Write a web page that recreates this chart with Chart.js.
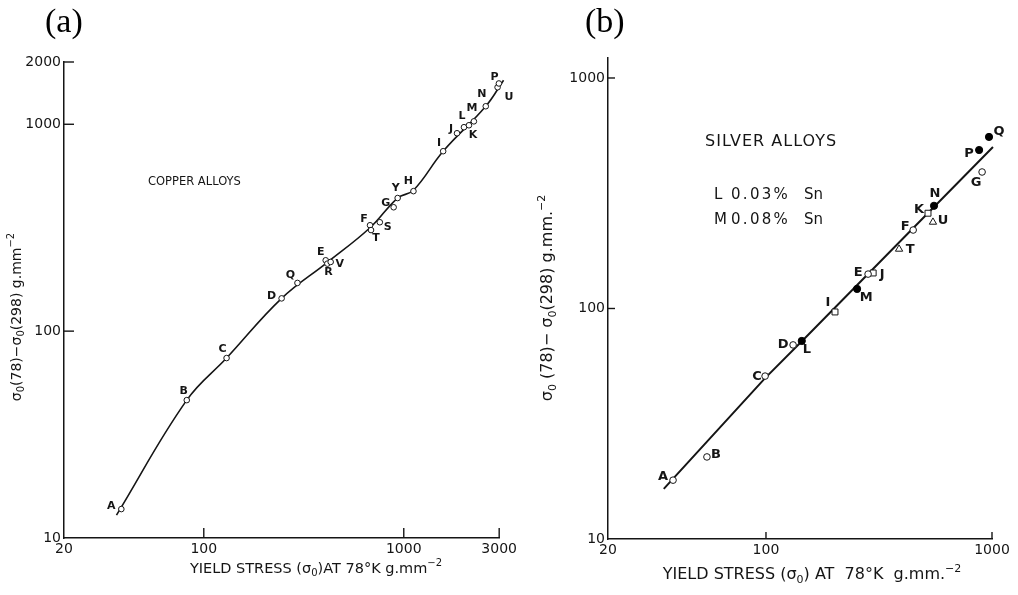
<!DOCTYPE html>
<html><head><meta charset="utf-8">
<script src="https://cdn.jsdelivr.net/npm/chart.js@4.4.1/dist/chart.umd.min.js"></script>
<style>
html,body{margin:0;padding:0;background:#fff;width:1018px;height:595px;overflow:hidden;}
#wrapA{position:absolute;left:0;top:0;width:520px;height:595px;}
#wrapB{position:absolute;left:520px;top:0;width:498px;height:595px;}
.ptitle{position:absolute;font-family:"Liberation Serif","Times New Roman",serif;font-size:34px;color:#000;line-height:1;}
</style></head><body>
<div id="wrapA"><canvas id="ca" width="520" height="595" style="width:520px;height:595px"></canvas></div>
<div id="wrapB"><canvas id="cb" width="498" height="595" style="width:498px;height:595px"></canvas></div>
<div class="ptitle" style="left:45px;top:4px">(a)</div>
<div class="ptitle" style="left:585px;top:4px">(b)</div>
<script>
// ---------- DATA: (a) copper alloys ----------
const cuLabels = ['A','B','C','D','Q','E','R','V','F','T','S','G','Y','H','I','J','L','K','M','N','P','U'];
const cuStress = [38.7, 82.2, 130, 245, 294, 407, 415, 431, 678, 686, 759, 890, 932, 1118, 1574, 1846, 2000, 2118, 2242, 2570, 2945, 2990];
const cuDiff   = [13.8, 46.4, 74.1, 144, 171, 220, 212, 216, 325, 308, 336, 397, 440, 475, 741, 905, 968, 989, 1033, 1222, 1510, 1575];
const cuFitStress = [36.6, 82.2, 130, 245, 415, 678, 932, 1118, 1574, 2570, 3155];
const cuFitDiff   = [12.9, 46.4, 74.1, 144, 215, 316, 440, 480, 741, 1222, 1633];
const cuXTicks = [20, 100, 1000, 3000];
const cuYTicks = [10, 100, 1000, 2000];

// ---------- DATA: (b) silver alloys ----------
const agOpenLabels = ['A','B','C','D','E','F','G'];
const agOpenStress = [38.8, 54.8, 99.1, 131.8, 283, 448, 904];
const agOpenDiff   = [18.0, 22.7, 50.9, 69.5, 141, 219, 391];
const agFilledLabels = ['L','M','N','P','Q'];
const agFilledStress = [144, 253, 554, 877, 970];
const agFilledDiff   = [72.3, 121.6, 279, 487, 555];
const agSquareLabels = ['I','J','K'];
const agSquareStress = [202, 298, 521];
const agSquareDiff   = [96.6, 142.6, 259];
const agTriLabels = ['T','U'];
const agTriStress = [388, 548];
const agTriDiff   = [181, 237];
const agFitStress = [35.3, 99.1, 148.9, 1010];
const agFitDiff   = [16.5, 49.9, 74.5, 502];
const agXTicks = [20, 100, 1000];
const agYTicks = [10, 100, 1000];

// ---------- TEXT ----------
const xTitleA = [['YIELD STRESS (σ','n'],['0','sub'],[')AT 78°K g.mm','n'],['−2','sup']];
const yTitleA = [['σ','n'],['0','sub'],['(78)−σ','n'],['0','sub'],['(298) g.mm','n'],['−2','sup']];
const xTitleB = [['YIELD STRESS (σ','n'],['0','sub'],[') AT  78°K  g.mm.','n'],['−2','sup']];
const yTitleB = [['σ','n'],['0','sub'],[' (78)− σ','n'],['0','sub'],['(298) g.mm.','n'],['−2','sup']];
const noteA = 'COPPER ALLOYS';
const noteB = 'SILVER ALLOYS';
const noteBL = ['L', '0.03%', 'Sn'];
const noteBM = ['M', '0.08%', 'Sn'];

// ---------- label placement (pixel offsets from each point) ----------
const cuLabelOff = {A:[-10,-3],B:[-3,-9],C:[-4,-9],D:[-10,-2],Q:[-7,-8],E:[-5,-8],R:[1,9],V:[9,2],F:[-6,-6],T:[5,8],S:[8,5],G:[-8,-4],Y:[-2,-10],H:[-5,-10],I:[-4,-8],J:[-6,-4],L:[-2,-11],K:[4,10],M:[-2,-13],N:[-4,-12],P:[-3,-10],U:[10,14]};
const agLabelOff = {A:[-10,-4],B:[9,-2],C:[-8,1],D:[-10,0],E:[-10,-1],F:[-8,-3],G:[-6,11],L:[5,9],M:[9,9],N:[1,-12],P:[-10,4],Q:[10,-5],I:[-7,-9],J:[9,2],K:[-9,-4],T:[11,1],U:[10,-1]};

const FONT = '"DejaVu Sans", "Liberation Sans", sans-serif';
const INK = '#151515';

function pts(xs, ys){ return xs.map((x,i)=>({x:x, y:ys[i]})); }

function drawRich(ctx, segs, x, y, size, align){
  const f = m => (m==='n' ? size : Math.round(size*0.68)) + 'px ' + FONT;
  let w = 0;
  for (const [t,m] of segs){ ctx.font = f(m); w += ctx.measureText(t).width; }
  let cx = align === 'center' ? x - w/2 : x;
  ctx.textAlign = 'left'; ctx.textBaseline = 'middle';
  for (const [t,m] of segs){
    ctx.font = f(m);
    const dy = m==='sub' ? size*0.32 : (m==='sup' ? -size*0.38 : 0);
    ctx.fillText(t, cx, y+dy);
    cx += ctx.measureText(t).width;
  }
}

function decor(opt){
  return {
    id: 'decor_' + opt.name,
    afterDraw(chart){
      const ctx = chart.ctx, xs = chart.scales.x, ys = chart.scales.y;
      const a = chart.chartArea;
      ctx.save();
      ctx.strokeStyle = INK; ctx.lineWidth = 1.4;
      // inward tick marks
      opt.xTicks.slice(1).forEach(v=>{
        const px = xs.getPixelForValue(v);
        ctx.beginPath(); ctx.moveTo(px, a.bottom); ctx.lineTo(px, a.bottom - opt.tickLen); ctx.stroke();
      });
      opt.yTicks.slice(1).forEach(v=>{
        const py = ys.getPixelForValue(v);
        ctx.beginPath(); ctx.moveTo(a.left, py); ctx.lineTo(a.left + opt.tickLen, py); ctx.stroke();
      });
      // point letters
      ctx.fillStyle = INK;
      chart.data.datasets.forEach((ds, di)=>{
        if (!ds.pointLetters) return;
        const meta = chart.getDatasetMeta(di);
        meta.data.forEach((el, i)=>{
          const L = ds.pointLetters[i];
          const off = opt.offsets[L] || [0,-10];
          ctx.font = 'bold ' + opt.labelSize + 'px ' + FONT;
          ctx.textAlign = 'center'; ctx.textBaseline = 'middle';
          ctx.fillText(L, el.x + off[0], el.y + off[1]);
        });
      });
      // notes
      opt.notes(ctx);
      // axis titles
      drawRich(ctx, opt.xTitle, opt.xTitlePos[0], opt.xTitlePos[1], opt.xTitleSize, 'center');
      ctx.save();
      ctx.translate(opt.yTitlePos[0], opt.yTitlePos[1]);
      ctx.rotate(-Math.PI/2);
      drawRich(ctx, opt.yTitle, 0, 0, opt.yTitleSize, 'center');
      ctx.restore();
      ctx.restore();
    }
  };
}

function axis(min, max, tickVals, fitFn, size){
  return {
    type: 'logarithmic', min: min, max: max,
    afterFit: fitFn,
    afterBuildTicks: s => { s.ticks = tickVals.map(v=>({value:v})); },
    ticks: { callback: v => String(v), font: {family: FONT, size: size}, color: INK, padding: 3, maxRotation: 0, autoSkip: false },
    grid: { display: false, drawTicks: false },
    border: { display: true, color: INK, width: 1.5 }
  };
}

// ---------- chart (a) ----------
new Chart(document.getElementById('ca'), {
  type: 'scatter',
  data: { datasets: [
    { type: 'line', data: pts(cuFitStress, cuFitDiff), borderColor: INK, borderWidth: 1.6, pointRadius: 0,
      tension: 0.4, fill: false, clip: false, order: 2 },
    { data: pts(cuStress, cuDiff), pointLetters: cuLabels, pointStyle: 'circle', pointRadius: 2.8,
      borderWidth: 1, borderColor: INK, backgroundColor: '#fff', order: 1, clip: false }
  ]},
  options: {
    responsive: false, animation: false,
    layout: { padding: { left: 0, top: 62, right: 16, bottom: 0 } },
    plugins: { legend: { display: false }, tooltip: { enabled: false } },
    scales: {
      x: axis(20, 3000, cuXTicks, s => { s.height = 57; }, 14),
      y: axis(10, 2000, cuYTicks, s => { s.width = 64; }, 14)
    }
  },
  plugins: [decor({
    name: 'a', xTicks: cuXTicks, yTicks: cuYTicks, tickLen: 10, labelSize: 11, offsets: cuLabelOff,
    xTitle: xTitleA, xTitlePos: [316, 569], xTitleSize: 14.5,
    yTitle: yTitleA, yTitlePos: [17, 317], yTitleSize: 14,
    notes: ctx => {
      ctx.font = '11.5px ' + FONT; ctx.textAlign = 'left'; ctx.textBaseline = 'middle';
      ctx.fillText(noteA, 148, 182);
    }
  })]
});

// ---------- chart (b) ----------
new Chart(document.getElementById('cb'), {
  type: 'scatter',
  data: { datasets: [
    { type: 'line', data: pts(agFitStress, agFitDiff), borderColor: INK, borderWidth: 2, pointRadius: 0,
      tension: 0, fill: false, clip: false, order: 5 },
    { data: pts(agOpenStress, agOpenDiff), pointLetters: agOpenLabels, pointStyle: 'circle', pointRadius: 3.3,
      borderWidth: 1, borderColor: INK, backgroundColor: '#fff', order: 1, clip: false },
    { data: pts(agFilledStress, agFilledDiff), pointLetters: agFilledLabels, pointStyle: 'circle', pointRadius: 3.6,
      borderWidth: 1, borderColor: '#000', backgroundColor: '#000', order: 1, clip: false },
    { data: pts(agSquareStress, agSquareDiff), pointLetters: agSquareLabels, pointStyle: 'rect', pointRadius: 4.2,
      borderWidth: 1, borderColor: INK, backgroundColor: '#fff', order: 1, clip: false },
    { data: pts(agTriStress, agTriDiff), pointLetters: agTriLabels, pointStyle: 'triangle', pointRadius: 4.2,
      borderWidth: 1, borderColor: INK, backgroundColor: '#fff', order: 1, clip: false }
  ]},
  options: {
    responsive: false, animation: false,
    layout: { padding: { left: 0, top: 58, right: 26, bottom: 0 } },
    plugins: { legend: { display: false }, tooltip: { enabled: false } },
    scales: {
      x: axis(20, 1000, agXTicks, s => { s.height = 56; }, 14),
      y: axis(10, 1221, agYTicks, s => { s.width = 88; }, 14)
    }
  },
  plugins: [decor({
    name: 'b', xTicks: agXTicks, yTicks: agYTicks, tickLen: 7, labelSize: 13, offsets: agLabelOff,
    xTitle: xTitleB, xTitlePos: [292, 575], xTitleSize: 16,
    yTitle: yTitleB, yTitlePos: [28, 298], yTitleSize: 16,
    notes: ctx => {
      ctx.textAlign = 'left'; ctx.textBaseline = 'middle';
      ctx.font = '16px ' + FONT;
      try { ctx.letterSpacing = '1px'; } catch(e) {}
      ctx.fillText(noteB, 185, 142);
      try { ctx.letterSpacing = '0px'; } catch(e) {}
      ctx.font = '15px ' + FONT;
      ctx.fillText(noteBL[0], 194, 195);
      ctx.fillText(noteBM[0], 194, 220);
      ctx.fillText(noteBL[2], 284, 195);
      ctx.fillText(noteBM[2], 284, 220);
      try { ctx.letterSpacing = '2.3px'; } catch(e) {}
      ctx.fillText(noteBL[1], 211, 195);
      ctx.fillText(noteBM[1], 211, 220);
      try { ctx.letterSpacing = '0px'; } catch(e) {}
    }
  })]
});
</script>
</body></html>
